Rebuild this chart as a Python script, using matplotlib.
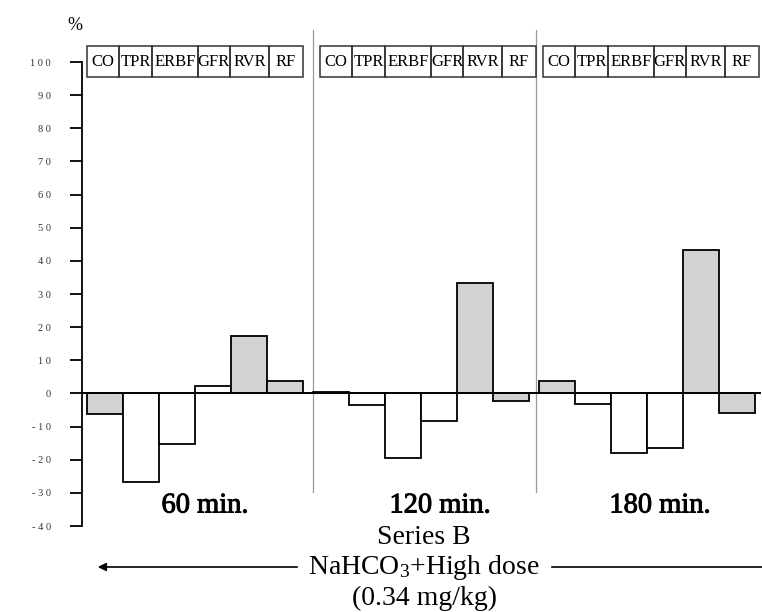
import matplotlib
matplotlib.use("Agg")
import matplotlib.pyplot as plt
from matplotlib.patches import Rectangle
import matplotlib.patheffects as pe

plt.rcParams['font.family'] = ['Liberation Serif', 'DejaVu Serif']
plt.rcParams['mathtext.fontset'] = 'custom'
plt.rcParams['mathtext.rm'] = 'Liberation Serif'
plt.rcParams['mathtext.it'] = 'Liberation Serif:italic'

# ---- data ----
variables = ["CO", "TPR", "ERBF", "GFR", "RVR", "RF"]
periods = ["60 min.", "120 min.", "180 min."]
values_60 = [-6.3, -26.6, -15.4, 2.1, 17.2, 3.6]
values_120 = [0.5, -3.6, -19.6, -8.2, 33.2, -2.4]
values_180 = [3.6, -3.3, -18.1, -16.6, 43.2, -6.0]
yticks = [100, 90, 80, 70, 60, 50, 40, 30, 20, 10, 0, -10, -20, -30, -40]
series_title = "Series B"
treatment = "NaHCO$_3$+High dose"
dose = "(0.34 mg/kg)"

# ---- layout (pixels) ----
W, H = 762, 612
fig = plt.figure(figsize=(W / 100, H / 100), dpi=100)
ax_left, ax_right = 82, 762
y_top_px, y_bot_px = 62, 526  # 100 and -40
ax = fig.add_axes([ax_left / W, 1 - y_bot_px / H, (ax_right - ax_left) / W,
                   (y_bot_px - y_top_px) / H])
ax.set_xlim(ax_left, ax_right)
ax.set_ylim(-40, 100)
scale = (y_bot_px - y_top_px) / 140.0


def px2val(ypx):
    return 100 - (ypx - y_top_px) / scale


bar_starts = [87, 313, 539]
bar_w = 36
fill_gray = ['#d2d2d2', 'white', 'white', 'white', '#d2d2d2', '#d2d2d2']
all_vals = [values_60, values_120, values_180]

for p, vals in enumerate(all_vals):
    xs = [bar_starts[p] + i * bar_w for i in range(len(vals))]
    ax.bar(xs, vals, width=bar_w, align='edge', color=fill_gray,
           edgecolor='black', linewidth=1.3, zorder=3)

# zero line
ax.plot([ax_left, 760], [0, 0], color='black', lw=1.4, zorder=4, clip_on=False)

# label boxes
box_starts = [87, 320, 543]
cell_w = [32, 33, 46, 32, 39, 34]
box_top, box_bot = px2val(46), px2val(77)
for b in box_starts:
    x = b
    for name, w in zip(variables, cell_w):
        ax.add_patch(Rectangle((x, box_bot), w, box_top - box_bot, fill=False,
                               edgecolor='#333333', lw=1.1, clip_on=False, zorder=5))
        ax.text(x + w / 2, (box_top + box_bot) / 2, name, ha='center', va='center',
                fontsize=12, clip_on=False, zorder=6)
        x += w

# separators
for sx in [313, 536]:
    ax.plot([sx, sx], [px2val(30), px2val(492)], color='#999999', lw=0.9,
            clip_on=False, zorder=2)

# axes styling
for s in ['top', 'right', 'bottom']:
    ax.spines[s].set_visible(False)
ax.spines['left'].set_bounds(-40, 100)
ax.spines['left'].set_linewidth(1.3)
ax.set_yticks(yticks)
ax.set_yticklabels([("- " if v < 0 else "") + " ".join(str(abs(v))) for v in yticks],
                   fontsize=7.5, color='#333333')
ax.tick_params(axis='y', direction='out', length=8.5, width=1.3, pad=14)
ax.set_xticks([])


def ft(x, y, s, **kw):
    fig.text(x / W, 1 - y / H, s, ha='center', va='center', **kw)


ft(75, 25, "%", fontsize=13)
centers = [205, 440, 660]
stroke = [pe.withStroke(linewidth=0.7, foreground='black')]
for c, lab in zip(centers, periods):
    ft(c, 506, lab, fontsize=20.5, path_effects=stroke)
ft(424, 537, series_title, fontsize=20)
ft(424, 567, treatment, fontsize=20)
ft(424, 598, dose, fontsize=20)

# arrow lines
fig.add_artist(matplotlib.patches.FancyArrowPatch(
    (300 / W, 1 - 567 / H), (95 / W, 1 - 567 / H), transform=fig.transFigure,
    arrowstyle='-|>', mutation_scale=12, color='black', lw=1.2))
fig.add_artist(matplotlib.lines.Line2D([552 / W, 762 / W], [1 - 567 / H, 1 - 567 / H],
                                       transform=fig.transFigure, color='black', lw=1.2))

fig.savefig("out.png", dpi=100)
